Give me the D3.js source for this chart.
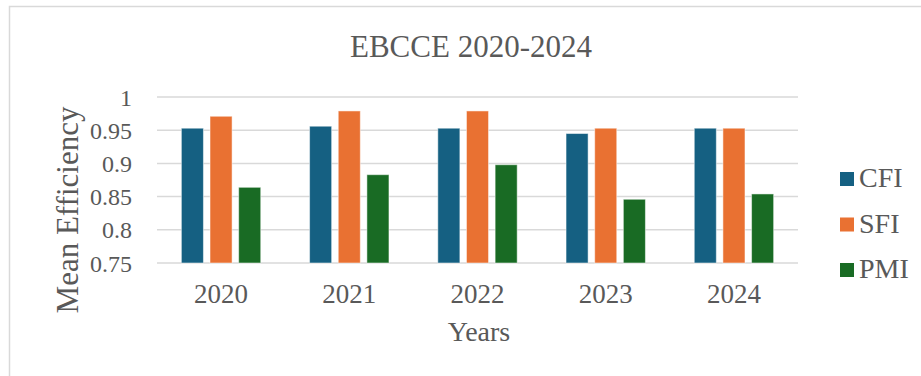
<!DOCTYPE html>
<html>
<head>
<meta charset="utf-8">
<script src="https://cdn.jsdelivr.net/npm/d3@7"></script>
<style>
    body { margin: 0; background: #fff; }
    svg text { font-family: "Liberation Serif", "Times New Roman", serif; fill: #595959; }
</style>
</head>
<body>
<div id="chart"></div>
<script>
var years = ["2020", "2021", "2022", "2023", "2024"];
var seriesNames = ["CFI", "SFI", "PMI"];
var cfi = [0.953, 0.956, 0.953, 0.945, 0.953];
var sfi = [0.971, 0.979, 0.979, 0.953, 0.953];
var pmi = [0.864, 0.883, 0.898, 0.846, 0.854];
var yTicks = [0.75, 0.8, 0.85, 0.9, 0.95, 1];
var colors = ["#156082", "#E97132", "#196B24"];

var WIDTH = 921, HEIGHT = 376;
var plotLeft = 157, plotRight = 798, plotTop = 97, plotBottom = 263;

var svg = d3.select("#chart").append("svg")
    .attr("width", WIDTH)
    .attr("height", HEIGHT);

// outer frame (only left and top edges show in the picture)
svg.append("rect")
    .attr("x", 9.5).attr("y", 6.5)
    .attr("width", 940).attr("height", 400)
    .attr("fill", "none")
    .attr("stroke", "#d9d9d9")
    .attr("stroke-width", 1.5);

var x0 = d3.scaleBand()
    .domain(years)
    .range([plotLeft, plotRight])
    .paddingInner(0.381)
    .paddingOuter(0.19);

var x1 = d3.scaleBand()
    .domain(seriesNames)
    .range([0, x0.bandwidth()])
    .paddingInner(0.23)
    .paddingOuter(0);

var y = d3.scaleLinear()
    .domain([0.75, 1])
    .range([plotBottom, plotTop]);

// gridlines
svg.append("g").selectAll("line")
    .data(yTicks).enter()
    .append("line")
    .attr("x1", plotLeft).attr("x2", plotRight)
    .attr("y1", function (d) { return y(d); })
    .attr("y2", function (d) { return y(d); })
    .attr("stroke", "#d9d9d9")
    .attr("stroke-width", 1.5);

// y tick labels
var yAxis = d3.axisLeft(y).tickValues(yTicks).tickSize(0).tickPadding(0)
    .tickFormat(function (d) { return String(+d.toFixed(2)); });
var gy = svg.append("g").attr("transform", "translate(132,0)").call(yAxis);
gy.select(".domain").remove();
gy.selectAll("text")
    .attr("font-size", 24)
    .attr("dy", "0.34em")
    .attr("fill", "#595959")
    .style("font-family", "Liberation Serif");

// x tick labels
var xAxis = d3.axisBottom(x0).tickSize(0).tickPadding(0);
var gx = svg.append("g").attr("transform", "translate(0,303)").call(xAxis);
gx.select(".domain").remove();
gx.selectAll("text")
    .attr("font-size", 27)
    .attr("dy", 0)
    .attr("y", 0)
    .attr("fill", "#595959")
    .style("font-family", "Liberation Serif");

// bars
var table = years.map(function (yr, i) {
    return { year: yr, values: [cfi[i], sfi[i], pmi[i]] };
});

var groups = svg.append("g").selectAll("g")
    .data(table).enter()
    .append("g")
    .attr("transform", function (d) { return "translate(" + x0(d.year) + ",0)"; });

groups.selectAll("rect")
    .data(function (d) {
        return d.values.map(function (v, j) { return { name: seriesNames[j], value: v, idx: j }; });
    })
    .enter().append("rect")
    .attr("x", function (d) { return x1(d.name); })
    .attr("y", function (d) { return y(d.value); })
    .attr("width", x1.bandwidth())
    .attr("height", function (d) { return y(0.75) - y(d.value); })
    .attr("fill", function (d) { return colors[d.idx]; })
    .attr("stroke", "#fff")
    .attr("stroke-opacity", 0.5)
    .attr("stroke-width", 1);

// title
svg.append("text")
    .attr("x", 471).attr("y", 57)
    .attr("text-anchor", "middle")
    .attr("font-size", 31)
    .text("EBCCE 2020-2024");

// axis titles
svg.append("text")
    .attr("x", 479).attr("y", 341)
    .attr("text-anchor", "middle")
    .attr("font-size", 28)
    .text("Years");

svg.append("text")
    .attr("transform", "translate(78,210)rotate(-90)")
    .attr("text-anchor", "middle")
    .attr("font-size", 31)
    .text("Mean Efficiency");

// legend
var legend = svg.append("g").selectAll("g")
    .data(seriesNames).enter()
    .append("g")
    .attr("transform", function (d, i) { return "translate(840," + (172 + i * 45.5) + ")"; });

legend.append("rect")
    .attr("width", 14).attr("height", 14)
    .attr("fill", function (d, i) { return colors[i]; });

legend.append("text")
    .attr("x", 19).attr("y", 15)
    .attr("font-size", 28)
    .text(function (d) { return d; });
</script>
</body>
</html>
